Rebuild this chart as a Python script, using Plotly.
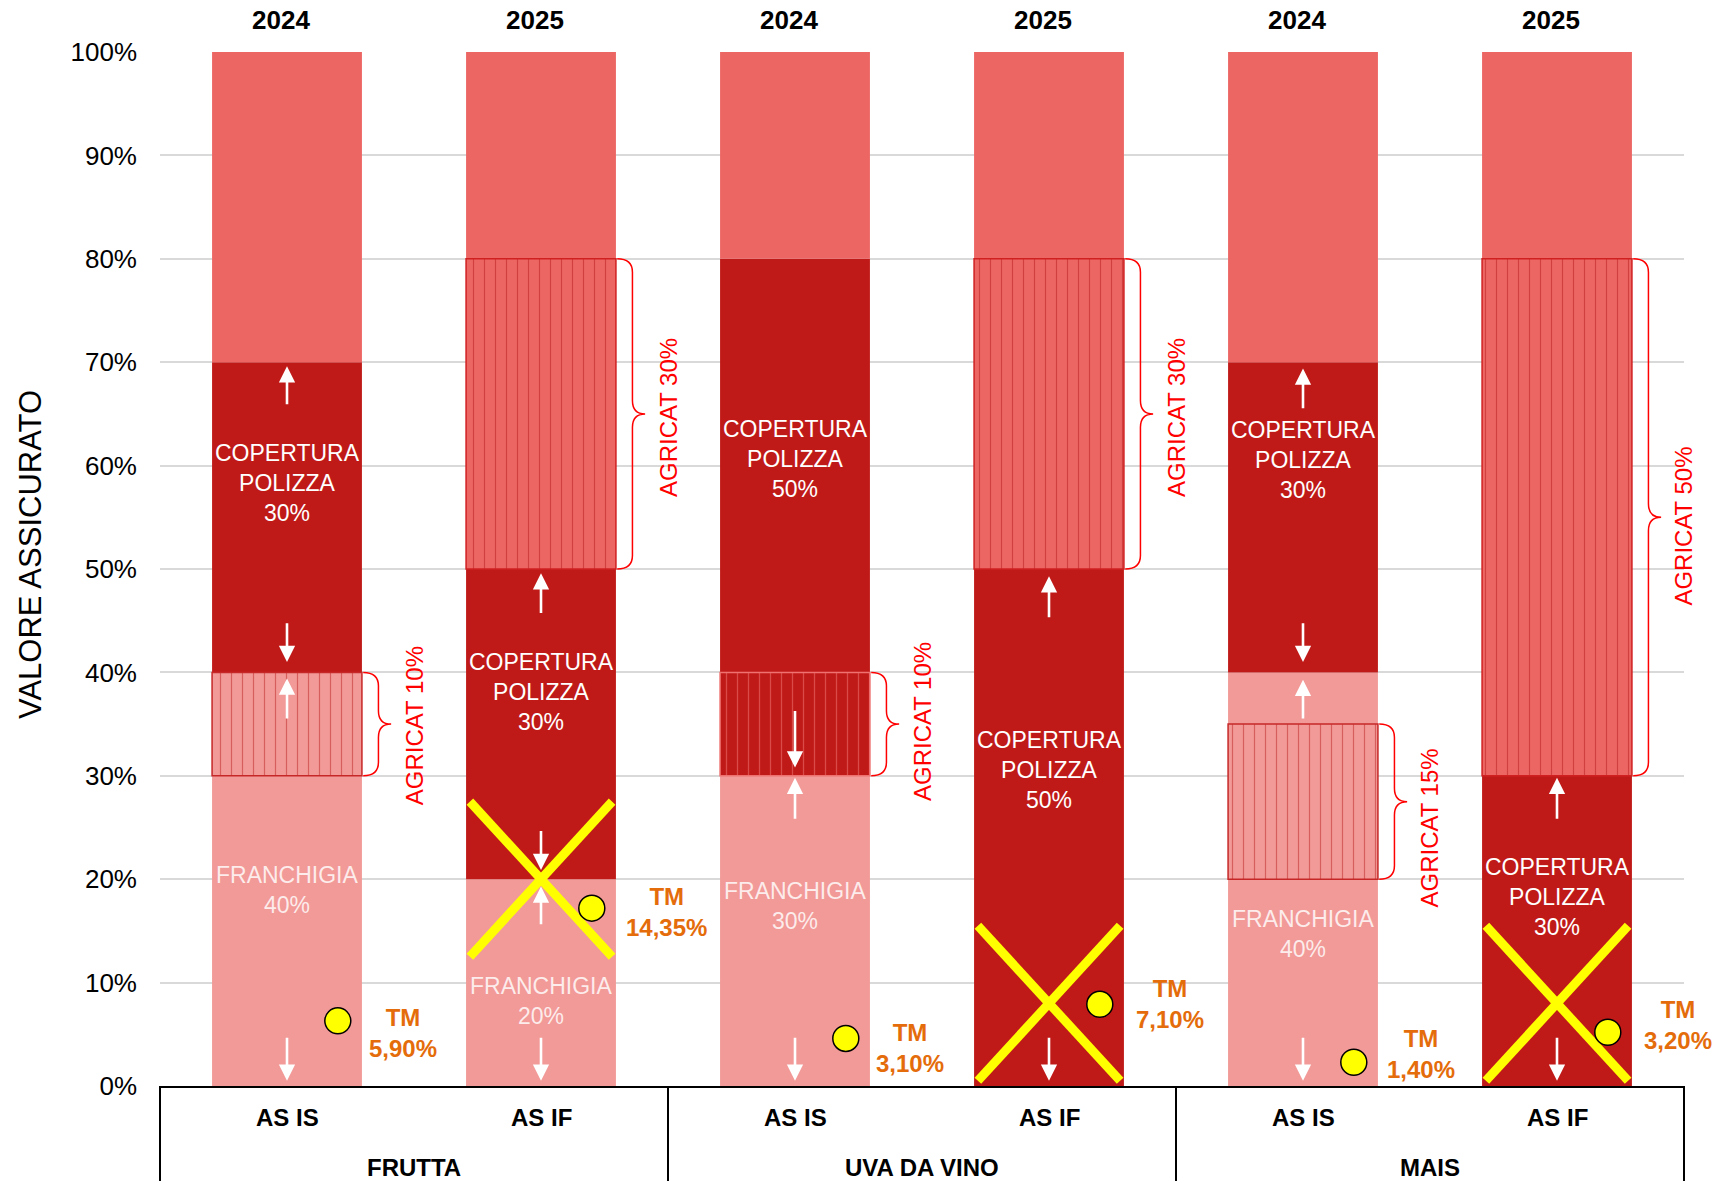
import plotly.graph_objects as go

# ---------------- data ----------------
groups = ["FRUTTA", "UVA DA VINO", "MAIS"]
scenarios = ["AS IS", "AS IF", "AS IS", "AS IF", "AS IS", "AS IF"]
years = ["2024", "2025", "2024", "2025", "2024", "2025"]
y_ticks = [0, 10, 20, 30, 40, 50, 60, 70, 80, 90, 100]
y_tick_text = ["0%", "10%", "20%", "30%", "40%", "50%", "60%", "70%", "80%", "90%", "100%"]

franchigia_low = [30, 20, 30, 0, 20, 0]          # base 0
agricat_base = [30, 50, 30, 50, 20, 30]
agricat_size = [10, 30, 10, 30, 15, 50]
franchigia_upper = [0, 0, 0, 0, 5, 0]             # above the agricat block
copertura_base = [40, 20, 40, 0, 40, 0]
copertura_size = [30, 30, 40, 50, 30, 30]
top_base = [70, 80, 80, 80, 70, 80]
top_size = [30, 20, 20, 20, 30, 20]

copertura_label = ["30%", "30%", "50%", "50%", "30%", "30%"]
copertura_label_y = [58.3, 38.1, 60.6, 30.6, 60.5, 18.3]
franchigia_label = ["40%", "20%", "30%", None, "40%", None]
franchigia_label_y = [19.0, 8.2, 17.4, None, 14.7, None]
agricat_label_y = [34.8, 64.6, 35.2, 64.6, 24.9, 54.1]

tm_text = ["5,90%", "14,35%", "3,10%", "7,10%", "1,40%", "3,20%"]
tm_marker_y = [6.3, 17.2, 4.6, 7.9, 2.3, 5.2]
tm_label_y = [5.1, 16.8, 3.7, 7.9, 3.1, 5.9]
tm_label_dx = [0.458, 0.496, 0.454, 0.476, 0.463, 0.476]

cross_center = [None, 20, None, 8, None, 8]

# arrows: (bar index, tail value, tip value)
arrows = [
    (0, 65.8, 69.6), (0, 44.9, 41.0), (0, 35.4, 39.4), (0, 4.8, 0.5),
    (1, 45.6, 49.6), (1, 24.8, 20.9), (1, 15.5, 19.3), (1, 4.8, 0.5),
    (2, 36.4, 30.8), (2, 25.7, 29.8), (2, 4.8, 0.5),
    (3, 45.2, 49.3), (3, 4.8, 0.5),
    (4, 65.4, 69.4), (4, 44.9, 41.0), (4, 35.4, 39.3), (4, 4.8, 0.5),
    (5, 25.7, 29.8), (5, 4.8, 0.5),
]

# ---------------- styles ----------------
PINK = "#F29A98"
DARK = "#C01A18"
SALMON = "#EC6664"
agricat_bg = [PINK, SALMON, DARK, SALMON, PINK, SALMON]
agricat_fg = ["#BA2222", "#B41A1A", "#F07C7A", "#B41A1A", "#BA2222", "#B41A1A"]
agricat_line = ["#C62828", "#D02020", "#EE7270", "#D02020", "#C62828", "#D02020"]
FONT = "Liberation Sans, Arial, sans-serif"
BAR_W = 0.59

x = list(range(len(scenarios)))

fig = go.Figure()
fig.add_trace(go.Bar(x=x, y=franchigia_low, base=[0] * len(x), width=BAR_W,
                     marker=dict(color=PINK, line=dict(width=0))))
fig.add_trace(go.Bar(x=x, y=franchigia_upper,
                     base=[b + s for b, s in zip(agricat_base, agricat_size)], width=BAR_W,
                     marker=dict(color=PINK, line=dict(width=0))))
fig.add_trace(go.Bar(x=x, y=copertura_size, base=copertura_base, width=BAR_W,
                     marker=dict(color=DARK, line=dict(width=0))))
fig.add_trace(go.Bar(x=x, y=top_size, base=top_base, width=BAR_W,
                     marker=dict(color=SALMON, line=dict(width=0))))
for i in x:
    fig.add_trace(go.Bar(x=[i], y=[agricat_size[i]], base=[agricat_base[i]], width=BAR_W,
                         marker=dict(color=agricat_bg[i],
                                     pattern=dict(shape="|", fgcolor=agricat_fg[i],
                                                  size=11, solidity=0.11, fillmode="overlay"),
                                     line=dict(color=agricat_line[i], width=1.5))))

# yellow crosses
HX, HY = 0.28, 7.5
for i, c in enumerate(cross_center):
    if c is None:
        continue
    fig.add_trace(go.Scatter(x=[i - HX, i + HX, None, i - HX, i + HX],
                             y=[c + HY, c - HY, None, c - HY, c + HY],
                             mode="lines", line=dict(color="#FFFF00", width=9),
                             hoverinfo="skip"))

# TM markers
fig.add_trace(go.Scatter(x=[i + 0.2 for i in x], y=tm_marker_y, mode="markers",
                         marker=dict(size=26, color="#FFFF00", line=dict(color="black", width=1.5)),
                         cliponaxis=False, hoverinfo="skip"))

ann = []
# year labels on top
for i, yr in enumerate(years):
    ann.append(dict(x=i, y=1, xref="x", yref="paper", yanchor="middle", yshift=32, xshift=-6,
                    text=f"<b>{yr}</b>", showarrow=False,
                    font=dict(family=FONT, size=26, color="black")))
# scenario labels + group labels
for i, sc in enumerate(scenarios):
    ann.append(dict(x=i, y=0, xref="x", yref="paper", yanchor="middle", yshift=-31,
                    text=f"<b>{sc}</b>", showarrow=False,
                    font=dict(family=FONT, size=24, color="black")))
for g, name in enumerate(groups):
    ann.append(dict(x=2 * g + 0.5, y=0, xref="x", yref="paper", yanchor="middle", yshift=-81,
                    text=f"<b>{name}</b>", showarrow=False,
                    font=dict(family=FONT, size=24, color="black")))
# y title
ann.append(dict(x=0, y=0.5, xref="paper", yref="paper", xanchor="center", yanchor="middle",
                xshift=-130, yshift=14,
                text="VALORE ASSICURATO", textangle=-90, showarrow=False,
                font=dict(family=FONT, size=31, color="black")))
# segment labels
for i in x:
    ann.append(dict(x=i, y=copertura_label_y[i], xref="x", yref="y",
                    text=f"COPERTURA<br>POLIZZA<br>{copertura_label[i]}", showarrow=False,
                    font=dict(family=FONT, size=23, color="white")))
    if franchigia_label[i] is not None:
        ann.append(dict(x=i, y=franchigia_label_y[i], xref="x", yref="y",
                        text=f"FRANCHIGIA<br>{franchigia_label[i]}", showarrow=False,
                        font=dict(family=FONT, size=23, color="rgba(255,255,255,0.82)")))
    ann.append(dict(x=i + tm_label_dx[i], y=tm_label_y[i], xref="x", yref="y",
                    text=f"<b>TM<br>{tm_text[i]}</b>", showarrow=False,
                    font=dict(family=FONT, size=24, color="#E46C0A")))
    ann.append(dict(x=i + 0.5, y=agricat_label_y[i], xref="x", yref="y", textangle=-90,
                    text=f"AGRICAT {agricat_size[i]}%", showarrow=False,
                    font=dict(family=FONT, size=24, color="#FF0000")))
# white arrows
for i, tail, tip in arrows:
    ann.append(dict(x=i, y=tip, ax=i, ay=tail, xref="x", yref="y", axref="x", ayref="y",
                    text="", showarrow=True, arrowhead=2, arrowsize=1.25, arrowwidth=2.6,
                    arrowcolor="white", standoff=0, startstandoff=0))

shapes = []
# braces
for i in x:
    y0 = agricat_base[i]
    y1 = agricat_base[i] + agricat_size[i]
    ym = (y0 + y1) / 2
    xt, xs, xp, r = i + 0.30, i + 0.36, i + 0.41, 1.3
    path = (f"M{xt},{y1} Q{xs},{y1} {xs},{y1 - r} L{xs},{ym + r} "
            f"Q{xs},{ym} {xp},{ym} Q{xs},{ym} {xs},{ym - r} "
            f"L{xs},{y0 + r} Q{xs},{y0} {xt},{y0}")
    shapes.append(dict(type="path", path=path, xref="x", yref="y",
                       line=dict(color="#FF0000", width=1.5)))
# category box dividers
for g in range(len(groups) + 1):
    shapes.append(dict(type="line", xref="paper", yref="paper", x0=g / 3, x1=g / 3,
                       y0=0, y1=-0.095, line=dict(color="black", width=2)))

fig.update_layout(
    width=1713, height=1181,
    margin=dict(l=160, r=29, t=52, b=95),
    paper_bgcolor="white", plot_bgcolor="white",
    barmode="overlay", showlegend=False, hovermode=False,
    annotations=ann, shapes=shapes,
    xaxis=dict(range=[-0.5, 5.5], showticklabels=False, showgrid=False, zeroline=False,
               showline=True, linecolor="black", linewidth=2, ticks=""),
    yaxis=dict(range=[0, 100], tickvals=y_ticks, ticktext=y_tick_text,
               showgrid=True, gridcolor="#D9D9D9", gridwidth=2, zeroline=False,
               ticks="", ticklabelstandoff=22,
               tickfont=dict(family=FONT, size=26, color="black")),
)

fig.write_html("out.html", config={"displayModeBar": False},
               post_script="document.body.style.margin='0px';document.body.style.overflow='hidden';")
